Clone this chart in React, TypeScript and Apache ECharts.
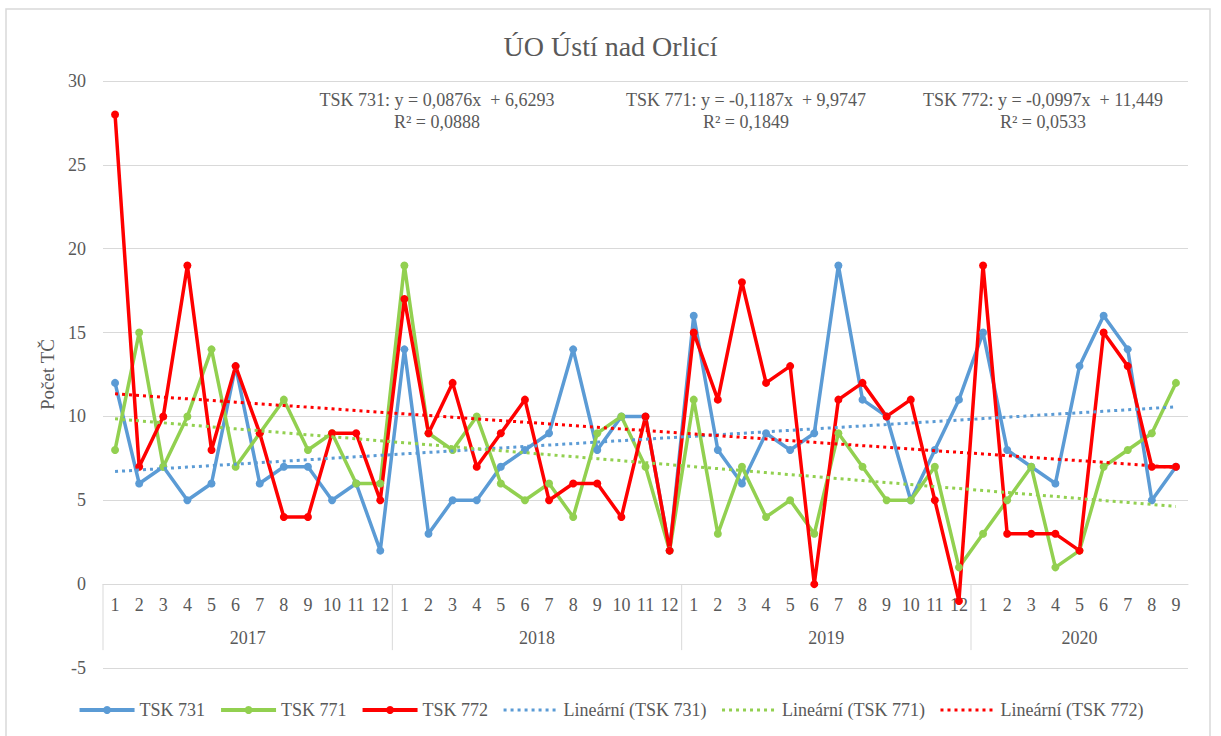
import React, { useEffect, useRef } from "react";
import * as echarts from "echarts";

const months: string[] = [
  "1","2","3","4","5","6","7","8","9","10","11","12",
  "1","2","3","4","5","6","7","8","9","10","11","12",
  "1","2","3","4","5","6","7","8","9","10","11","12",
  "1","2","3","4","5","6","7","8","9",
];
const years: string[] = ["2017", "2018", "2019", "2020"];
const yearStart: number[] = [0, 12, 24, 36];
const yearEnd: number[] = [11, 23, 35, 44];

const tsk731: number[] = [
  12, 6, 7, 5, 6, 13, 6, 7, 7, 5, 6, 2,
  14, 3, 5, 5, 7, 8, 9, 14, 8, 10, 10, 2,
  16, 8, 6, 9, 8, 9, 19, 11, 10, 5, 8, 11,
  15, 8, 7, 6, 13, 16, 14, 5, 7,
];
const tsk771: number[] = [
  8, 15, 7, 10, 14, 7, 9, 11, 8, 9, 6, 6,
  19, 9, 8, 10, 6, 5, 6, 4, 9, 10, 7, 2,
  11, 3, 7, 4, 5, 3, 9, 7, 5, 5, 7, 1,
  3, 5, 7, 1, 2, 7, 8, 9, 12,
];
const tsk772: number[] = [
  28, 7, 10, 19, 8, 13, 9, 4, 4, 9, 9, 5,
  17, 9, 12, 7, 9, 11, 5, 6, 6, 4, 10, 2,
  15, 11, 18, 12, 13, 0, 11, 12, 10, 11, 5, -1,
  19, 3, 3, 3, 2, 15, 13, 7, 7,
];

// Trendline coefficients as printed on the chart (slope, intercept)
const trendSlope: number[] = [0.0876, -0.1187, -0.0997];
const trendIntercept: number[] = [6.6293, 9.9747, 11.449];
const trendLabels: string[][] = [
  ["TSK 731: y = 0,0876x  + 6,6293", "R² = 0,0888"],
  ["TSK 771: y = -0,1187x  + 9,9747", "R² = 0,1849"],
  ["TSK 772: y = -0,0997x  + 11,449", "R² = 0,0533"],
];
const seriesNames: string[] = ["TSK 731", "TSK 771", "TSK 772"];
const trendNames: string[] = ["Lineární (TSK 731)", "Lineární (TSK 771)", "Lineární (TSK 772)"];

const COLORS = ["#5b9bd5", "#92d050", "#ff0000"];
const TEXT = "#595959";
const FONT = "'Liberation Serif', 'Times New Roman', serif";

export default function App() {
  const ref = useRef<HTMLDivElement>(null);
  useEffect(() => {
    if (!ref.current) return;
    const chart = echarts.init(ref.current, undefined, { renderer: "svg" });
    const values = [tsk731, tsk771, tsk772];
    const trend = (k: number) =>
      months.map((_, i) => +(trendSlope[k] * (i + 1) + trendIntercept[k]).toFixed(4));

    const mainSeries: any[] = values.map((d, k) => ({
      name: seriesNames[k],
      type: "line",
      data: d,
      symbol: "circle",
      symbolSize: 8,
      color: COLORS[k],
      lineStyle: { width: 3.5, color: COLORS[k] },
      itemStyle: { color: COLORS[k] },
      z: 3,
    }));
    const trendSeries: any[] = values.map((_, k) => ({
      name: trendNames[k],
      type: "line",
      data: trend(k),
      symbol: "none",
      color: COLORS[k],
      lineStyle: { width: 3, color: COLORS[k], type: [3, 4] },
      z: 4,
    }));

    const yearData = years.map((_, i) => [yearStart[i], 0, yearEnd[i]]);

    const yearSeries: any = {
      type: "custom",
      silent: true,
      clip: false,
      data: yearData,
      encode: { x: 0, y: 1 },
      renderItem: (params: any, api: any) => {
        const s = api.value(0);
        const e = api.value(2);
        const p0 = api.coord([s, 0]);
        const p1 = api.coord([e, 0]);
        const bw = api.size([1, 0])[0];
        const left = p0[0] - bw / 2;
        const right = p1[0] + bw / 2;
        const y0 = p0[1];
        return {
          type: "group",
          children: [
            {
              type: "line",
              shape: { x1: left, y1: y0, x2: left, y2: y0 + 66 },
              style: { stroke: "#d9d9d9", lineWidth: 1 },
            },
            {
              type: "text",
              style: {
                text: years[params.dataIndex],
                x: (left + right) / 2,
                y: y0 + 54,
                textAlign: "center",
                textVerticalAlign: "middle",
                fill: TEXT,
                font: `18px ${FONT}`,
              },
            },
          ],
        };
      },
      z: 1,
    };

    const graphics: any[] = [
      {
        type: "rect",
        shape: { x: 6, y: 9, width: 1204, height: 740 },
        style: { fill: "none", stroke: "#d9d9d9", lineWidth: 1.5 },
        silent: true,
      },
    ];
    const centers = [437, 746, 1043];
    trendLabels.forEach((lines, k) => {
      lines.forEach((t, j) => {
        graphics.push({
          type: "text",
          x: centers[k],
          y: 100 + j * 22,
          style: {
            text: t,
            textAlign: "center",
            textVerticalAlign: "middle",
            fill: TEXT,
            font: `18px ${FONT}`,
          },
        });
      });
    });

    chart.setOption({
      animation: false,
      backgroundColor: "#ffffff",
      title: {
        text: "ÚO Ústí nad Orlicí",
        left: "center",
        top: 27,
        textStyle: { fontFamily: FONT, fontSize: 28, fontWeight: "normal", color: TEXT },
      },
      grid: { left: 103, right: 33, top: 81, bottom: 68, containLabel: false },
      legend: {
        bottom: 12,
        left: "center",
        itemWidth: 55,
        itemHeight: 10,
        itemGap: 14,
        data: [
          ...seriesNames.map((n) => ({ name: n, lineStyle: { width: 4 } })),
          ...trendNames.map((n) => ({ name: n, itemStyle: { opacity: 0 }, lineStyle: { width: 3 } })),
        ],
        textStyle: { fontFamily: FONT, fontSize: 18, color: TEXT },
      },
      xAxis: {
        type: "category",
        data: months,
        boundaryGap: true,
        position: "bottom",
        offset: -84,
        axisLine: { onZero: false, lineStyle: { color: "#d9d9d9", width: 1 } },
        axisTick: { show: false },
        axisLabel: {
          color: TEXT,
          fontFamily: FONT,
          fontSize: 18,
          margin: 12,
          interval: 0,
        },
        splitLine: { show: false },
      },
      yAxis: {
        type: "value",
        min: -5,
        max: 30,
        interval: 5,
        name: "Počet TČ",
        nameLocation: "middle",
        nameGap: 46,
        nameTextStyle: { fontFamily: FONT, fontSize: 19, color: TEXT },
        axisLine: { show: false },
        axisTick: { show: false },
        axisLabel: { color: TEXT, fontFamily: FONT, fontSize: 18, margin: 17 },
        splitLine: { lineStyle: { color: "#d9d9d9", width: 1 } },
      },
      graphic: graphics,
      series: [...mainSeries, ...trendSeries, yearSeries],
    });
    return () => chart.dispose();
  }, []);
  return (
    <div
      ref={ref}
      style={{ position: "absolute", left: 0, top: 0, width: 1221, height: 736 }}
    />
  );
}
